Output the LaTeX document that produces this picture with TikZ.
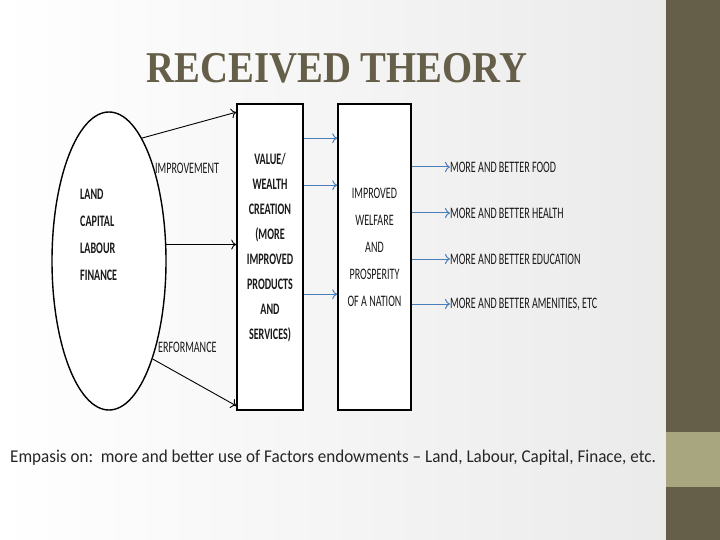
\documentclass[tikz,border=0pt]{standalone}
\usepackage{fontspec}
\setmainfont{Carlito}
\newfontfamily\titlefont[FakeStretch=0.88]{Liberation Serif}
\newfontfamily\narrowfont[FakeStretch=0.63]{Carlito}
\newfontfamily\notefont[FakeStretch=0.95]{Carlito}
\usepackage{xcolor}
\definecolor{rtolive}{RGB}{101,94,72}
\definecolor{rtsage}{RGB}{168,166,126}
\definecolor{rtblue}{RGB}{74,126,187}
\definecolor{rtink}{RGB}{25,25,25}
\usetikzlibrary{shapes.geometric,arrows.meta,positioning,calc}
\tikzset{
  factors/.style={draw, ellipse, line width=1.4pt, fill=white, minimum width=114pt, minimum height=298pt},
  column/.style={draw, line width=1.6pt, fill=white, minimum height=306pt, inner sep=0pt},
  coltext/.style={align=center, text=rtink, inner sep=0pt, font=\narrowfont\fontsize{16}{25}\selectfont},
  sidetext/.style={anchor=west, text=rtink, inner sep=0pt, font=\narrowfont\fontsize{16}{16}\selectfont},
  arr/.style={-{To[length=5pt,width=10pt]}, line width=0.9pt},
  barr/.style={-{To[length=5pt,width=10pt]}, line width=1pt, rtblue}
}

\begin{document}
\begin{tikzpicture}[x=1pt, y=-1pt]
  \useasboundingbox (0,0) rectangle (720,540);
  \shade[left color=white, right color=black!8] (0,0) rectangle (660,540);
  \fill[black!8] (660,0) rectangle (666,540);
  \fill[rtolive] (666,0) rectangle (720,540);
  \fill[rtsage] (666,432) rectangle (720,487);

  \node[text=rtolive, font=\titlefont\bfseries\fontsize{44}{44}\selectfont] (title) at (337,68) {RECEIVED THEORY};

  \node[factors] (ell) at (109,261) {};
  \node[column, minimum width=66pt] (wealth) at (270,257) {};
  \node[column, minimum width=73pt] (welfare) at (374.5,257) {};

  \node[coltext, anchor=west, align=left, font=\narrowfont\bfseries\fontsize{16}{27}\selectfont] (inputs) at (80,235) {LAND\\CAPITAL\\LABOUR\\FINANCE};
  \node[coltext, font=\narrowfont\bfseries\fontsize{16}{25}\selectfont] (wealthtxt) at (270,248) {VALUE/\\WEALTH\\CREATION\\(MORE\\IMPROVED\\PRODUCTS\\AND\\SERVICES)};
  \node[coltext, font=\narrowfont\fontsize{16}{27}\selectfont] (welfaretxt) at (374.5,247) {IMPROVED\\WELFARE\\AND\\PROSPERITY\\OF A NATION};

  \node[sidetext] (improve) at (155,168) {IMPROVEMENT};
  \node[sidetext] (perform) at (158,347) {ERFORMANCE};

  \node[sidetext] (food) at (450,167) {MORE AND BETTER FOOD};
  \node[sidetext] (health) at (450,213) {MORE AND BETTER HEALTH};
  \node[sidetext] (educ) at (450,259) {MORE AND BETTER EDUCATION};
  \node[sidetext] (amen) at (450,304) {MORE AND BETTER AMENITIES, ETC};

  \draw[arr] (ell.75) -- ([yshift=-9pt]wealth.north west);
  \draw[arr] (ell.16) -- (ell.16 -| wealth.west);
  \draw[arr] (ell.-66) -- ([yshift=5pt]wealth.south west);

  \draw[barr] ([yshift=-35pt]wealth.north east) -- ([yshift=-35pt]welfare.north west);
  \draw[barr] ([yshift=-82pt]wealth.north east) -- ([yshift=-82pt]welfare.north west);
  \draw[barr] ([yshift=-191pt]wealth.north east) -- ([yshift=-191pt]welfare.north west);

  \draw[barr] (welfare.east |- food.west) -- (food.west);
  \draw[barr] (welfare.east |- health.west) -- (health.west);
  \draw[barr] (welfare.east |- educ.west) -- (educ.west);
  \draw[barr] (welfare.east |- amen.west) -- (amen.west);

  \node[anchor=west, text=black!85, inner sep=0pt, font=\notefont\fontsize{18}{18}\selectfont] (note) at (10,458) {Empasis on:\ \ more and better use of Factors endowments – Land, Labour, Capital, Finace, etc.};
\end{tikzpicture}
\end{document}
